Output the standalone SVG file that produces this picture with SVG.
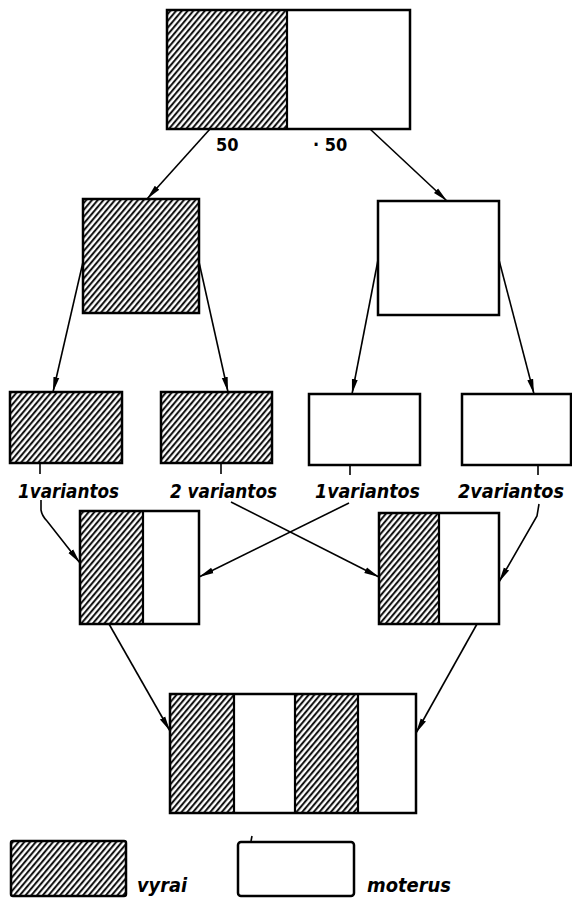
<svg xmlns="http://www.w3.org/2000/svg" width="572" height="900" viewBox="0 0 572 900">
  <style>
    .box { stroke: #000; stroke-width: 2.5; }
    .hat { fill: url(#hatch); }
    .wht { fill: #fff; }
    .div { stroke: #000; stroke-width: 2.2; fill: none; }
    .lnk { stroke: #000; stroke-width: 1.6; fill: none; marker-end: url(#head); }
    .tick { stroke: #000; stroke-width: 1.6; }
    .lbl { font-family: "DejaVu Sans Condensed", "DejaVu Sans", sans-serif; font-style: oblique; font-weight: bold; font-size: 20px; fill: #000; }
    .num { font-family: "DejaVu Sans Condensed", "DejaVu Sans", sans-serif; font-weight: bold; font-size: 18px; fill: #000; }
  </style>
  <defs>
    <pattern id="hatch" patternUnits="userSpaceOnUse" width="4.4" height="10" patternTransform="rotate(40)">
      <rect width="4.4" height="10" fill="#fff"/>
      <line x1="1.1" y1="0" x2="1.1" y2="10" stroke="#000" stroke-width="1.9"/>
    </pattern>
    <marker id="head" markerUnits="userSpaceOnUse" markerWidth="16" markerHeight="10" refX="15" refY="5" orient="auto">
      <path d="M0,2 L15,5 L0,8 Z" fill="#000"/>
    </marker>
  </defs>

  <rect width="572" height="900" fill="#fff"/>

  <!-- parent pair -->
  <g id="parents">
    <rect class="hat" x="167" y="10" width="120" height="119"/>
    <rect class="wht" x="287" y="10" width="123" height="119"/>
    <rect class="box" x="167" y="10" width="243" height="119" fill="none"/>
    <line class="div" x1="287" y1="10" x2="287" y2="129"/>
    <text class="num" x="216" y="151">50</text>
    <text class="num" x="313" y="151">· 50</text>
  </g>

  <!-- second row -->
  <g id="male-line">
    <rect class="box hat" x="83" y="199" width="116" height="114"/>
  </g>
  <g id="female-line">
    <rect class="box wht" x="378" y="201" width="121" height="114"/>
  </g>

  <!-- variants -->
  <g id="male-v1">
    <rect class="box hat" x="10" y="392" width="112" height="71"/>
    <line class="tick" x1="40" y1="463" x2="40" y2="474"/>
    <text class="lbl" x="18" y="498" textLength="101" lengthAdjust="spacingAndGlyphs">1variantos</text>
  </g>
  <g id="male-v2">
    <rect class="box hat" x="161" y="392" width="111" height="71"/>
    <line class="tick" x1="221" y1="463" x2="221" y2="474"/>
    <text class="lbl" x="170" y="498" textLength="107" lengthAdjust="spacingAndGlyphs">2 variantos</text>
  </g>
  <g id="female-v1">
    <rect class="box wht" x="309" y="394" width="111" height="71"/>
    <line class="tick" x1="350" y1="465" x2="350" y2="475"/>
    <text class="lbl" x="315" y="498" textLength="105" lengthAdjust="spacingAndGlyphs">1variantos</text>
  </g>
  <g id="female-v2">
    <rect class="box wht" x="462" y="394" width="109" height="71"/>
    <line class="tick" x1="538" y1="465" x2="538" y2="475"/>
    <text class="lbl" x="458" y="498" textLength="106" lengthAdjust="spacingAndGlyphs">2variantos</text>
  </g>

  <!-- crosses -->
  <g id="cross-left">
    <rect class="hat" x="80" y="511" width="63" height="113"/>
    <rect class="wht" x="143" y="511" width="56" height="113"/>
    <rect class="box" x="80" y="511" width="119" height="113" fill="none"/>
    <line class="div" x1="143" y1="511" x2="143" y2="624"/>
  </g>
  <g id="cross-right">
    <rect class="hat" x="379" y="513" width="60" height="111"/>
    <rect class="wht" x="439" y="513" width="60" height="111"/>
    <rect class="box" x="379" y="513" width="120" height="111" fill="none"/>
    <line class="div" x1="439" y1="513" x2="439" y2="624"/>
  </g>

  <!-- combined offspring -->
  <g id="offspring">
    <rect class="hat" x="170" y="694" width="64" height="119"/>
    <rect class="wht" x="234" y="694" width="61" height="119"/>
    <rect class="hat" x="295" y="694" width="63" height="119"/>
    <rect class="wht" x="358" y="694" width="58" height="119"/>
    <rect class="box" x="170" y="694" width="246" height="119" fill="none"/>
    <line class="div" x1="234" y1="694" x2="234" y2="813"/>
    <line class="div" x1="295" y1="694" x2="295" y2="813"/>
    <line class="div" x1="358" y1="694" x2="358" y2="813"/>
  </g>

  <!-- legend -->
  <g id="legend-male">
    <rect class="box hat" x="11" y="841" width="115" height="55" rx="2"/>
    <text class="lbl" x="137" y="892" textLength="50" lengthAdjust="spacingAndGlyphs">vyrai</text>
  </g>
  <g id="legend-female">
    <rect class="box wht" x="238" y="842" width="116" height="54" rx="3"/>
    <line class="tick" x1="251" y1="841" x2="252" y2="836"/>
    <text class="lbl" x="367" y="892" textLength="84" lengthAdjust="spacingAndGlyphs">moterus</text>
  </g>

  <!-- connectors -->
  <g id="connectors">
    <path class="lnk" d="M210,129 L147,199"/>
    <path class="lnk" d="M370,129 L447,201"/>
    <path class="lnk" d="M83,262 L53,392"/>
    <path class="lnk" d="M199,262 L228,392"/>
    <path class="lnk" d="M378,260 L352,394"/>
    <path class="lnk" d="M499,260 L534,394"/>
    <path class="lnk" d="M41,500 L41,510 Q42,516 47,521 L80,563"/>
    <path class="lnk" d="M231,502 L379,577"/>
    <path class="lnk" d="M349,503 L199,577"/>
    <path class="lnk" d="M539,504 L537,516 L499,582"/>
    <path class="lnk" d="M109,624 L170,731"/>
    <path class="lnk" d="M477,624 L416,733"/>
  </g>
</svg>
